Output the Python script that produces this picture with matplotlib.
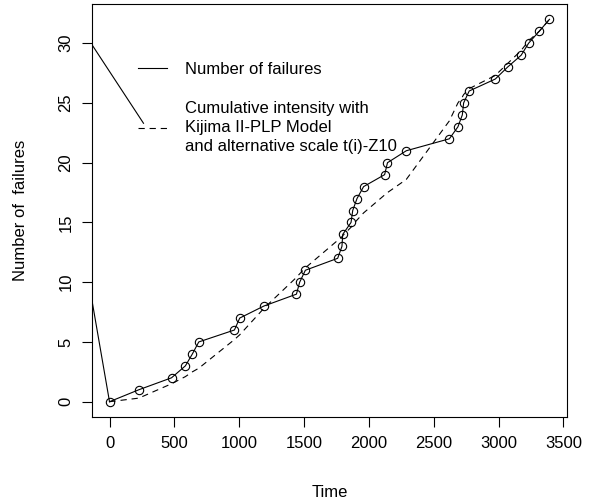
import matplotlib
matplotlib.use("Agg")
import matplotlib.pyplot as plt
from matplotlib.lines import Line2D

plt.rcParams['font.family'] = ['Liberation Sans', 'DejaVu Sans']
plt.rcParams['lines.scale_dashes'] = False

# failure times and cumulative failure count
fail_time = [0, 226, 478, 585, 639, 688, 963, 1004, 1189, 1441, 1466, 1510,
             1759, 1792, 1798, 1862, 1875, 1908, 1959, 2121, 2143, 2288,
             2620, 2686, 2720, 2730, 2773, 2974, 3069, 3174, 3231, 3313, 3392]
n_fail = list(range(len(fail_time)))

# cumulative intensity, Kijima II-PLP model (estimated)
cum_int = [0, 0.3, 1.5, 2.1, 2.5, 2.8, 5.2, 5.6, 7.8, 10.4, 10.7, 11.2,
           13.5, 13.8, 13.9, 14.6, 14.8, 15.2, 15.8, 17.3, 17.5, 18.6,
           23.5, 25.0, 25.5, 25.7, 26.2, 27.3, 28.3, 29.4, 30.2, 31.0, 32.0]

# stray segments coming in from the left of the plot region
stray1_x = [-300, 262]
stray1_y = [32.6, 23.3]
stray2_x = [-300, 0]
stray2_y = [18.8, 0]

xticks = [0, 500, 1000, 1500, 2000, 2500, 3000, 3500]
yticks = [0, 5, 10, 15, 20, 25, 30]

fig = plt.figure(figsize=(5.89, 5.04), dpi=100)
ax = fig.add_axes([92/589, 1-417/504, 475/589, 413/504])

ax.plot(fail_time, n_fail, color='black', lw=0.8, marker='o', ms=6,
        mfc='none', mew=0.8)
ax.plot(fail_time, cum_int, color='black', lw=0.8, dashes=(4.5, 3.5))
ax.plot(stray1_x, stray1_y, color='black', lw=0.8)
ax.plot(stray2_x, stray2_y, color='black', lw=0.8)

ax.set_xlim(-135, 3527)
ax.set_ylim(-1.28, 33.28)
ax.set_xticks(xticks)
ax.set_yticks(yticks)
ax.set_yticklabels([str(v) for v in yticks], rotation=90, va='center')
ax.tick_params(direction='out', length=7.5, width=0.8, labelsize=12, pad=6)
for s in ax.spines.values():
    s.set_linewidth(0.8)

ax.set_xlabel('Time', fontsize=12, labelpad=25)
ax.set_ylabel('Number of  failures', fontsize=12, labelpad=22)

handles = [Line2D([], [], color='black', lw=0.8),
           Line2D([], [], color='black', lw=0.8, dashes=(4.5, 3.5))]
labels = ['Number of failures',
          'Cumulative intensity with\nKijima II-PLP Model\nand alternative scale t(i)-Z10']
leg = ax.legend(handles, labels, loc='upper left', bbox_to_anchor=(0.0968, 0.86),
                frameon=False, fontsize=12, handlelength=1.74, handletextpad=1.08,
                labelspacing=1.45, borderpad=0, borderaxespad=0)
leg.get_texts()[1].set_linespacing(1.35)

fig.savefig('out.png', dpi=100)
